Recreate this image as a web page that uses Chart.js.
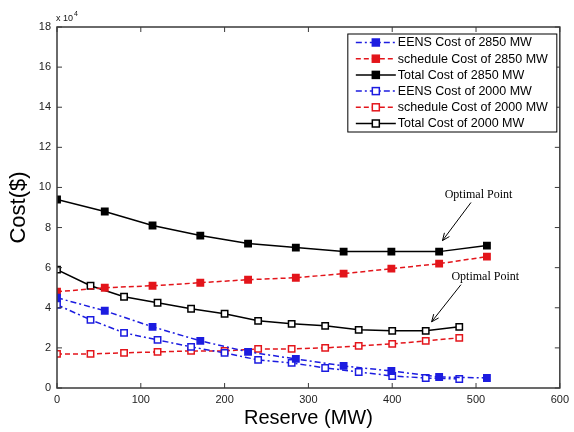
<!DOCTYPE html>
<html>
<head>
<meta charset="utf-8">
<script src="https://cdn.jsdelivr.net/npm/chart.js@4.4.0/dist/chart.umd.min.js"></script>
<style>
  html, body { margin: 0; padding: 0; background: #fff; }
  #wrap { width: 574px; height: 432px; }
</style>
</head>
<body>
<div id="wrap"><canvas id="myChart" width="574" height="432"></canvas></div>
<script>
// valores (custo em unidades de 10^4 $)
const reserve2850 = [0, 57, 114, 171, 228, 285, 342, 399, 456, 513];
const eens2850 = [4.5, 3.85, 3.05, 2.35, 1.8, 1.45, 1.1, 0.85, 0.55, 0.5];
const sched2850 = [4.8, 5.0, 5.1, 5.25, 5.4, 5.5, 5.7, 5.95, 6.2, 6.55];
const total2850 = [9.4, 8.8, 8.1, 7.6, 7.2, 7.0, 6.8, 6.8, 6.8, 7.1];

const reserve2000 = [0, 40, 80, 120, 160, 200, 240, 280, 320, 360, 400, 440, 480];
const eens2000 = [4.15, 3.4, 2.75, 2.4, 2.05, 1.75, 1.4, 1.25, 1.0, 0.8, 0.6, 0.5, 0.45];
const sched2000 = [1.7, 1.7, 1.75, 1.8, 1.85, 1.85, 1.95, 1.95, 2.0, 2.1, 2.2, 2.35, 2.5];
const total2000 = [5.9, 5.1, 4.55, 4.25, 3.95, 3.7, 3.35, 3.2, 3.1, 2.9, 2.85, 2.85, 3.05];

const seriesNames = [
  'EENS Cost of 2850 MW', 'schedule Cost of 2850 MW', 'Total Cost of 2850 MW',
  'EENS Cost of 2000 MW', 'schedule Cost of 2000 MW', 'Total Cost of 2000 MW'
];
const xTicks = [0, 100, 200, 300, 400, 500, 600];
const yTicks = [0, 2, 4, 6, 8, 10, 12, 14, 16, 18];

// anotacoes "Optimal Point": texto e seta em coordenadas de dados
const notes = [
  { text: 'Optimal Point', at: [503, 9.65], from: [494, 9.25], to: [460, 7.35] },
  { text: 'Optimal Point', at: [511, 5.55], from: [482, 5.15], to: [447, 3.3] }
];

const BLUE = '#1c1ce0';
const RED = '#e3151b';
const BLACK = '#000000';

function pts(xs, ys) {
  return xs.map((x, i) => ({ x: x, y: ys[i] }));
}

function serie(label, xs, ys, color, dash, filled) {
  return {
    label: label,
    data: pts(xs, ys),
    borderColor: color,
    backgroundColor: filled ? color : '#ffffff',
    borderDash: dash,
    borderWidth: 1.5,
    pointStyle: 'rect',
    pointRadius: 4.5,
    pointBorderWidth: 1.5,
    pointBorderColor: color,
    pointBackgroundColor: filled ? color : '#ffffff',
    tension: 0
  };
}

const DASHDOT = [6, 3, 2, 3];
const DASHED = [5, 3];

const datasets = [
  serie(seriesNames[0], reserve2850, eens2850, BLUE, DASHDOT, true),
  serie(seriesNames[1], reserve2850, sched2850, RED, DASHED, true),
  serie(seriesNames[2], reserve2850, total2850, BLACK, [], true),
  serie(seriesNames[3], reserve2000, eens2000, BLUE, DASHDOT, false),
  serie(seriesNames[4], reserve2000, sched2000, RED, DASHED, false),
  serie(seriesNames[5], reserve2000, total2000, BLACK, [], false)
];

// moldura estilo matlab com marcas para dentro
const framePlugin = {
  id: 'frame',
  afterDatasetsDraw(chart) {
    const { ctx, chartArea: a, scales } = chart;
    ctx.save();
    ctx.strokeStyle = '#3a3a3a';
    ctx.lineWidth = 1.5;
    ctx.setLineDash([]);
    ctx.strokeRect(a.left, a.top, a.right - a.left, a.bottom - a.top);
    ctx.lineWidth = 1;
    ctx.beginPath();
    xTicks.forEach(v => {
      const px = scales.x.getPixelForValue(v);
      ctx.moveTo(px, a.bottom); ctx.lineTo(px, a.bottom - 5);
      ctx.moveTo(px, a.top); ctx.lineTo(px, a.top + 5);
    });
    yTicks.forEach(v => {
      const py = scales.y.getPixelForValue(v);
      ctx.moveTo(a.left, py); ctx.lineTo(a.left + 5, py);
      ctx.moveTo(a.right, py); ctx.lineTo(a.right - 5, py);
    });
    ctx.stroke();

    // multiplicador do eixo y
    ctx.fillStyle = '#111';
    ctx.font = '9px "Liberation Sans", Arial, sans-serif';
    ctx.textBaseline = 'alphabetic';
    ctx.textAlign = 'left';
    ctx.fillText('x 10', a.left - 1, a.top - 6);
    ctx.font = '7px "Liberation Sans", Arial, sans-serif';
    ctx.fillText('4', a.left + 17, a.top - 11);
    ctx.restore();
  }
};

const notesPlugin = {
  id: 'notes',
  afterDatasetsDraw(chart) {
    const { ctx, scales } = chart;
    ctx.save();
    ctx.fillStyle = '#000';
    ctx.strokeStyle = '#000';
    ctx.lineWidth = 1;
    ctx.setLineDash([]);
    notes.forEach(n => {
      ctx.font = '12px "Liberation Serif", "Times New Roman", serif';
      ctx.textAlign = 'center';
      ctx.textBaseline = 'middle';
      ctx.fillText(n.text, scales.x.getPixelForValue(n.at[0]), scales.y.getPixelForValue(n.at[1]));
      const x1 = scales.x.getPixelForValue(n.from[0]), y1 = scales.y.getPixelForValue(n.from[1]);
      const x2 = scales.x.getPixelForValue(n.to[0]), y2 = scales.y.getPixelForValue(n.to[1]);
      ctx.beginPath();
      ctx.moveTo(x1, y1); ctx.lineTo(x2, y2);
      const ang = Math.atan2(y2 - y1, x2 - x1);
      const h = 8;
      ctx.moveTo(x2 - h * Math.cos(ang - 0.4), y2 - h * Math.sin(ang - 0.4));
      ctx.lineTo(x2, y2);
      ctx.lineTo(x2 - h * Math.cos(ang + 0.4), y2 - h * Math.sin(ang + 0.4));
      ctx.stroke();
    });
    ctx.restore();
  }
};

// legenda dentro da area do grafico, canto superior direito
const legendPlugin = {
  id: 'boxLegend',
  afterDatasetsDraw(chart) {
    const { ctx, chartArea: a } = chart;
    const right = a.right - 3, top = a.top + 7;
    const w = 209, rowH = 16.2, h = 98;
    const left = right - w;
    ctx.save();
    ctx.fillStyle = '#fff';
    ctx.fillRect(left, top, w, h);
    ctx.strokeStyle = '#000';
    ctx.lineWidth = 1;
    ctx.setLineDash([]);
    ctx.strokeRect(left, top, w, h);
    ctx.font = '12.5px "Liberation Sans", Arial, sans-serif';
    ctx.textBaseline = 'middle';
    ctx.textAlign = 'left';
    chart.data.datasets.forEach((ds, i) => {
      const y = top + 8.5 + i * rowH;
      ctx.strokeStyle = ds.borderColor;
      ctx.lineWidth = 1.5;
      ctx.setLineDash(ds.borderDash);
      ctx.beginPath();
      ctx.moveTo(left + 8, y); ctx.lineTo(left + 48, y);
      ctx.stroke();
      ctx.setLineDash([]);
      ctx.fillStyle = ds.pointBackgroundColor;
      ctx.fillRect(left + 24.5, y - 3.5, 7, 7);
      ctx.strokeRect(left + 24.5, y - 3.5, 7, 7);
      ctx.fillStyle = '#000';
      ctx.fillText(ds.label, left + 50, y + 0.5);
    });
    ctx.restore();
  }
};

const ctx = document.getElementById('myChart').getContext('2d');
const myChart = new Chart(ctx, {
  type: 'line',
  data: { datasets: datasets },
  plugins: [framePlugin, notesPlugin, legendPlugin],
  options: {
    responsive: false,
    animation: false,
    devicePixelRatio: 1,
    layout: { padding: { top: 27, right: 13, left: 0, bottom: 0 } },
    plugins: {
      legend: { display: false },
      tooltip: { enabled: false }
    },
    scales: {
      x: {
        type: 'linear',
        min: 0,
        max: 600,
        afterFit: s => { s.height = 44; },
        afterBuildTicks: s => { s.ticks = xTicks.map(v => ({ value: v })); },
        grid: { display: false, drawTicks: false },
        border: { display: false },
        ticks: {
          padding: 5,
          color: '#222',
          font: { family: '"Liberation Sans", Arial, sans-serif', size: 11 }
        },
        title: {
          display: true,
          text: 'Reserve (MW)',
          color: '#000',
          padding: { top: 0, bottom: 2 },
          font: { family: '"Liberation Sans", Arial, sans-serif', size: 20 }
        }
      },
      y: {
        min: 0,
        max: 18,
        afterFit: s => { s.width = 57; },
        afterBuildTicks: s => { s.ticks = yTicks.map(v => ({ value: v })); },
        grid: { display: false, drawTicks: false },
        border: { display: false },
        ticks: {
          padding: 6,
          color: '#222',
          font: { family: '"Liberation Sans", Arial, sans-serif', size: 11 }
        },
        title: {
          display: true,
          text: 'Cost($)',
          color: '#000',
          padding: { top: 6, bottom: 0 },
          font: { family: '"Liberation Sans", Arial, sans-serif', size: 22 }
        }
      }
    }
  }
});
</script>
</body>
</html>
